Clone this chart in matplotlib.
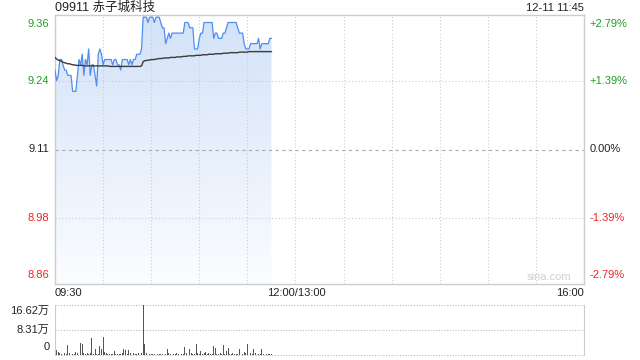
import numpy as np
import matplotlib.pyplot as plt
from matplotlib.colors import LinearSegmentedColormap

plt.rcParams['font.family'] = ['Liberation Sans', 'Noto Sans CJK SC']

# minute-by-minute data from 09:30 to 11:45
price = [9.26, 9.24, 9.25, 9.28, 9.28, 9.27, 9.26, 9.26, 9.25, 9.25,
         9.25, 9.22, 9.22, 9.22, 9.25, 9.28, 9.27, 9.29, 9.25, 9.28,
         9.27, 9.30, 9.25, 9.27, 9.27, 9.25, 9.23, 9.29, 9.30, 9.29,
         9.27, 9.28, 9.28, 9.28, 9.28, 9.28, 9.27, 9.28, 9.28, 9.27,
         9.27, 9.26, 9.28, 9.28, 9.28, 9.28, 9.27, 9.28, 9.27, 9.28,
         9.28, 9.29, 9.29, 9.29, 9.30, 9.36, 9.36, 9.36, 9.35, 9.36,
         9.36, 9.36, 9.35, 9.36, 9.36, 9.36, 9.35, 9.34, 9.34, 9.31,
         9.32, 9.33, 9.32, 9.33, 9.33, 9.33, 9.33, 9.33, 9.33, 9.33,
         9.33, 9.35, 9.35, 9.35, 9.34, 9.34, 9.34, 9.30, 9.30, 9.30,
         9.32, 9.33, 9.33, 9.35, 9.35, 9.35, 9.35, 9.35, 9.35, 9.32,
         9.33, 9.33, 9.32, 9.32, 9.32, 9.33, 9.33, 9.34, 9.35, 9.35,
         9.35, 9.35, 9.35, 9.35, 9.34, 9.33, 9.33, 9.33, 9.31, 9.30,
         9.30, 9.30, 9.31, 9.31, 9.31, 9.31, 9.31, 9.32, 9.30, 9.31,
         9.31, 9.31, 9.31, 9.31, 9.32, 9.32]

avg = [9.284, 9.281, 9.279, 9.278, 9.277, 9.275, 9.274, 9.273, 9.272, 9.272,
       9.271, 9.270, 9.270, 9.269, 9.269, 9.269, 9.269, 9.269, 9.268, 9.268,
       9.268, 9.268, 9.268, 9.268, 9.268, 9.268, 9.268, 9.268, 9.268, 9.268,
       9.268, 9.268, 9.268, 9.268, 9.267, 9.267, 9.267, 9.267, 9.267, 9.267,
       9.267, 9.267, 9.267, 9.267, 9.267, 9.267, 9.267, 9.267, 9.267, 9.267,
       9.267, 9.267, 9.267, 9.267, 9.268, 9.276, 9.278, 9.278, 9.279, 9.279,
       9.280, 9.280, 9.280, 9.281, 9.281, 9.282, 9.282, 9.282, 9.283, 9.283,
       9.283, 9.283, 9.284, 9.284, 9.284, 9.284, 9.285, 9.285, 9.285, 9.285,
       9.286, 9.286, 9.286, 9.287, 9.287, 9.287, 9.287, 9.287, 9.288, 9.288,
       9.288, 9.288, 9.289, 9.289, 9.289, 9.289, 9.290, 9.290, 9.290, 9.290,
       9.291, 9.291, 9.291, 9.291, 9.291, 9.292, 9.292, 9.292, 9.292, 9.293,
       9.293, 9.293, 9.293, 9.293, 9.293, 9.294, 9.294, 9.294, 9.294, 9.294,
       9.294, 9.295, 9.295, 9.295, 9.295, 9.295, 9.295, 9.295, 9.295, 9.295,
       9.295, 9.295, 9.295, 9.295, 9.295, 9.295]

# volume in 万 shares
vol = [11.1, 1.5, 1.1, 0.8, 0.4, 9.6, 0.6, 0.4, 3.3, 0.6,
       0.3, 0.3, 0.4, 1.1, 0.5, 3.3, 3.9, 3.5, 0.6, 0.3,
       0.5, 0.3, 0.6, 5.8, 0.4, 1.9, 0.3, 0.4, 3.0, 1.9,
       6.0, 1.1, 0.5, 0.4, 0.3, 0.3, 0.4, 1.3, 0.3, 0.2,
       0.3, 0.4, 0.5, 2.1, 1.6, 0.4, 1.8, 0.6, 0.3, 0.8,
       0.2, 0.3, 0.5, 1.1, 0.5, 16.62, 3.5, 0.5, 0.4, 0.3,
       0.3, 0.2, 0.4, 0.3, 0.2, 0.3, 0.2, 0.3, 0.6, 0.4,
       1.9, 0.5, 0.3, 0.6, 0.3, 0.2, 0.5, 0.3, 0.8, 0.3,
       0.4, 2.8, 0.5, 0.3, 1.9, 0.5, 0.4, 0.3, 3.7, 0.5,
       0.4, 1.2, 0.3, 0.8, 1.1, 0.3, 0.5, 0.3, 0.4, 3.1,
       2.2, 0.4, 0.3, 0.5, 0.3, 3.3, 0.4, 1.2, 2.2, 0.3,
       0.4, 0.5, 0.3, 0.4, 0.3, 2.1, 0.8, 0.3, 1.1, 0.8,
       3.7, 1.1, 0.5, 0.4, 1.9, 0.5, 0.3, 0.4, 0.3, 1.9,
       0.4, 0.3, 0.4, 0.3, 0.2, 0.3]

prev_close = 9.11
y_ticks = [9.36, 9.24, 9.11, 8.98, 8.86]
pct_labels = ['+2.79%', '+1.39%', '0.00%', '-1.39%', '-2.79%']
tick_colors = ['#1e9e1e', '#1e9e1e', '#222222', '#ee2222', '#ee2222']
vol_labels = ['16.62万', '8.31万', '0']
vol_max = 16.62
title = '09911 赤子城科技'
stamp = '12-11 11:45'

W, H = 640, 360
fig = plt.figure(figsize=(6.4, 3.6), dpi=100)
ax = fig.add_axes([55 / W, (H - 284) / H, 529 / W, 269 / H])
vax = fig.add_axes([55 / W, (H - 355) / H, 529 / W, 50 / H])

ymin, ymax = prev_close * (1 - 0.0279), prev_close * (1 + 0.0279)
x = np.arange(len(price))

# gradient fill under price line
cmap = LinearSegmentedColormap.from_list('g', ['#fbfdff', '#d3e2f8'])
grad = np.linspace(0, 1, 256).reshape(-1, 1)
im = ax.imshow(grad, aspect='auto', cmap=cmap, origin='lower',
               extent=[0, x[-1], ymin, ymax], zorder=1)
poly = ax.fill_between(x, price, ymin, color='none', lw=0)
im.set_clip_path(poly.get_paths()[0], transform=ax.transData)

ax.plot(x, price, color='#4d8ef0', lw=0.9, zorder=3)
ax.plot(x, avg, color='#3a3a3a', lw=1.0, zorder=3)

ax.set_xlim(0, 330)
ax.set_ylim(ymin, ymax)
ax.set_xticks([])
ax.set_yticks([])
for s in ax.spines.values():
    s.set_color('#cccccc')
    s.set_linewidth(1)
for gx in range(30, 330, 30):
    ax.axvline(gx, color='#cccccc', lw=0.8, ls=(0, (1, 2)), zorder=2)
for gy in [9.24, 8.98]:
    ax.axhline(gy, color='#cccccc', lw=0.8, ls=(0, (1, 2)), zorder=2)
ax.axhline(prev_close, color='#aaaaaa', lw=0.8, ls=(0, (3, 3)), zorder=2)

# left / right labels
for i, (v, p, c) in enumerate(zip(y_ticks, pct_labels, tick_colors)):
    va = 'center'
    yy = v
    if i == 0:
        va = 'top'
        yy = ymax
    elif i == len(y_ticks) - 1:
        va = 'bottom'
        yy = ymin
    off = -3 if i == 0 else (3 if i == len(y_ticks) - 1 else 0)
    ax.annotate(f'{v:.2f}', (0, yy), xycoords=('axes fraction', 'data'),
                xytext=(-4, off), textcoords='offset points',
                ha='right', va=va, color=c, fontsize=8)
    ax.annotate(p, (1, yy), xycoords=('axes fraction', 'data'),
                xytext=(4, off), textcoords='offset points',
                ha='left', va=va, color=c, fontsize=8)

fig.text(55 / W, 1 - 8 / H, title, ha='left', va='center', fontsize=9, color='#222222')
fig.text(584 / W, 1 - 8 / H, stamp, ha='right', va='center', fontsize=8, color='#222222')
fig.text(55 / W, 1 - 293 / H, '09:30', ha='left', va='center', fontsize=8, color='#222222')
fig.text(296 / W, 1 - 293 / H, '12:00/13:00', ha='center', va='center', fontsize=8, color='#222222')
fig.text(584 / W, 1 - 293 / H, '16:00', ha='right', va='center', fontsize=8, color='#222222')
ax.text(322, ymin + 0.004, 'sina.com', ha='right', va='bottom', fontsize=8, color='#cfcfcf')

# volume panel
vax.bar(x, vol, width=0.55, color='#555555', lw=0)
vax.set_xlim(0, 330)
vax.set_ylim(0, vol_max)
vax.set_xticks([])
vax.set_yticks([])
for side in ['top', 'bottom']:
    vax.spines[side].set_visible(False)
for side in ['left', 'right']:
    vax.spines[side].set_color('#cccccc')
for gy in [0, vol_max / 2, vol_max]:
    vax.axhline(gy, color='#bbbbbb', lw=0.8, ls=(0, (1, 1.5)), zorder=0, clip_on=False)
vax.annotate(vol_labels[0], (0, vol_max), xycoords=('axes fraction', 'data'),
             xytext=(-4, -1), textcoords='offset points', ha='right', va='top',
             fontsize=8, color='#222222')
vax.annotate(vol_labels[1], (0, vol_max / 2), xycoords=('axes fraction', 'data'),
             xytext=(-4, 0), textcoords='offset points', ha='right', va='center',
             fontsize=8, color='#222222')
vax.annotate(vol_labels[2], (0, 0), xycoords=('axes fraction', 'data'),
             xytext=(-4, 2), textcoords='offset points', ha='right', va='bottom',
             fontsize=8, color='#222222')

fig.savefig('out.png', dpi=100)
